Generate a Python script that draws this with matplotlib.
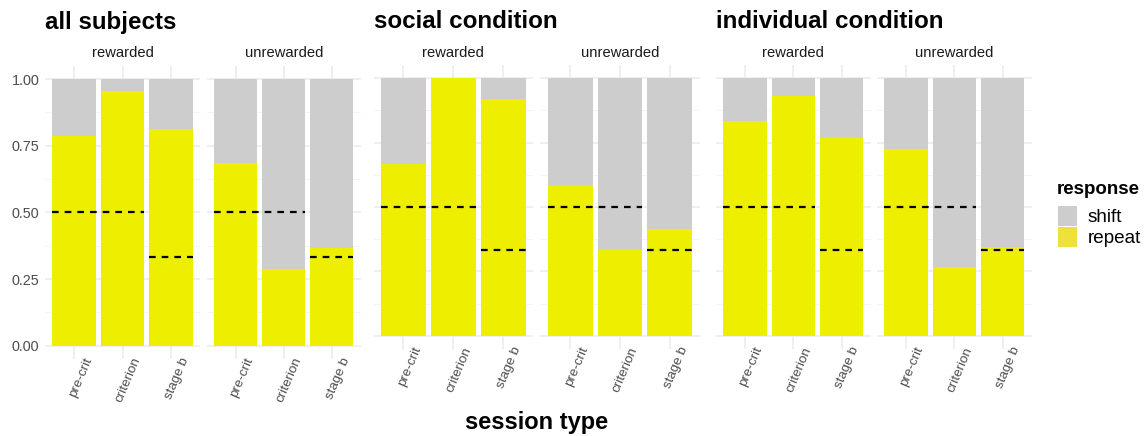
import numpy as np
import matplotlib.pyplot as plt
from matplotlib.patches import Patch
from matplotlib.transforms import ScaledTranslation

plt.rcParams['font.family'] = ['Liberation Sans', 'DejaVu Sans']

sessions = ['pre-crit', 'criterion', 'stage b']
facets = ['rewarded', 'unrewarded']
groups = ['all subjects', 'social condition', 'individual condition']

# proportion of "repeat" responses per facet (rewarded, unrewarded)
repeat_all = [[0.787, 0.955, 0.811], [0.684, 0.286, 0.367]]
repeat_social = [[0.667, 1.000, 0.919], [0.583, 0.334, 0.416]]
repeat_indiv = [[0.833, 0.933, 0.768], [0.724, 0.267, 0.343]]
repeat_data = [repeat_all, repeat_social, repeat_indiv]

# chance level for each session type
chance = [0.5, 0.5, 1 / 3]

YELLOW = '#EEEE00'
GREY = '#CDCDCD'
W, H = 1148, 436

# panel boxes in pixels: (left, right) for each facet, (top, bottom) per group
xboxes = [[(45, 200), (207, 360.5)],
          [(373.5, 533.3), (540.2, 699.7)],
          [(716, 870.5), (877, 1031.5)]]
yboxes = [(65.7, 359.0), (65.4, 348.6), (65.4, 348.6)]
title_x = [45, 374, 716]

fig = plt.figure(figsize=(W / 100, H / 100), dpi=100)


def add_px_axes(l, r, t, b):
    return fig.add_axes([l / W, 1 - b / H, (r - l) / W, (b - t) / H])


# shift of the rotated session labels relative to their tick
lab_shift = ScaledTranslation(0.09, 0.035, fig.dpi_scale_trans)

x = np.arange(len(sessions))
for g, name in enumerate(groups):
    top, bot = yboxes[g]
    for f, facet in enumerate(facets):
        l, r = xboxes[g][f]
        ax = add_px_axes(l, r, top, bot)
        rep = np.array(repeat_data[g][f])
        ax.bar(x, rep, width=0.9, color=YELLOW, zorder=2)
        ax.bar(x, 1 - rep, bottom=rep, width=0.9, color=GREY, zorder=2)

        # dashed chance lines, merged over neighbours with same level
        i = 0
        while i < len(chance):
            j = i
            while j + 1 < len(chance) and chance[j + 1] == chance[i]:
                j += 1
            ax.hlines(chance[i], i - 0.45, j + 0.45, colors='black',
                      linestyles=(0, (3, 2.7)), linewidth=1.6, zorder=3)
            i = j + 1

        ax.set_xlim(-0.6, 2.6)
        ax.set_ylim(-0.05, 1.05)
        ax.set_yticks([0, 0.25, 0.5, 0.75, 1.0])
        ax.set_yticks([0.125, 0.375, 0.625, 0.875], minor=True)
        ax.set_xticks(x)
        ax.set_xticklabels([])
        for xi, lab in zip(x, sessions):
            ax.text(xi, 0, lab, transform=ax.get_xaxis_transform() + lab_shift,
                    rotation=67, ha='right', va='top', rotation_mode='anchor',
                    color='#4D4D4D', fontsize=9.6)
        ax.tick_params(axis='x', length=0, pad=0)
        ax.tick_params(axis='y', which='both', length=0, pad=4)
        if g == 0 and f == 0:
            ax.set_yticklabels(['0.00', '0.25', '0.50', '0.75', '1.00'],
                               color='#4D4D4D', fontsize=10.4)
        else:
            ax.set_yticklabels([])
        ax.grid(True, which='major', color='#EBEBEB', linewidth=1.1, zorder=0)
        ax.grid(True, which='minor', axis='y', color='#F2F2F2',
                linewidth=0.6, zorder=0)
        ax.set_axisbelow(True)
        for s in ax.spines.values():
            s.set_visible(False)
        fig.text((l + r) / 2 / W, 1 - 53 / H, facet, ha='center',
                 va='center', fontsize=10.6, color='#1A1A1A')
    fig.text(title_x[g] / W, 1 - 22 / H, name, ha='left', va='center',
             fontsize=17.4, fontweight='bold')

fig.text(537 / W, 1 - 422 / H, 'session type', ha='center', va='center',
         fontsize=17, fontweight='bold')

# legend: title as separate text so the gap to the keys matches
fig.text(1057 / W, 1 - 189 / H, 'response', ha='left', va='center',
         fontsize=13.5, fontweight='bold')
handles = [Patch(facecolor=GREY, label='shift'),
           Patch(facecolor='#EEE13A', label='repeat')]
fig.legend(handles=handles, loc='upper left',
           bbox_to_anchor=(1058 / W, 1 - 206 / H), frameon=False,
           fontsize=13.6, handlelength=1.0, handleheight=1.22,
           handletextpad=0.55, labelspacing=0.06, borderaxespad=0,
           borderpad=0)

fig.savefig('out.png', dpi=100)
